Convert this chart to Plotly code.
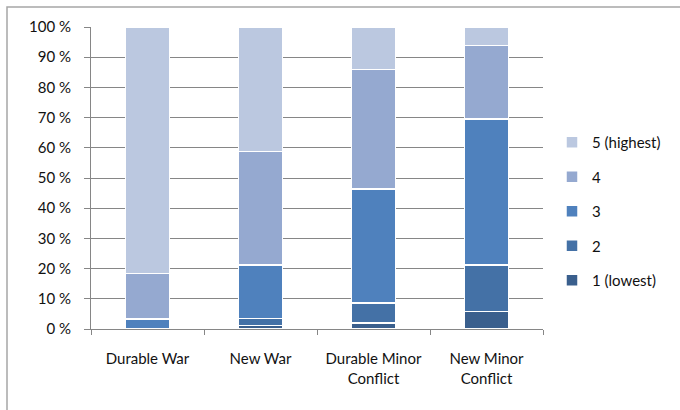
import plotly.graph_objects as go

categories = ["Durable War", "New War", "Durable Minor<br>Conflict", "New Minor<br>Conflict"]
series_names = ["1 (lowest)", "2", "3", "4", "5 (highest)"]
s1 = [0.0, 1.2, 2.0, 5.8]
s2 = [0.0, 2.2, 6.6, 15.4]
s3 = [3.3, 17.8, 37.7, 48.3]
s4 = [15.0, 37.6, 39.6, 24.3]
s5 = [81.7, 41.2, 14.1, 6.2]
series_values = [s1, s2, s3, s4, s5]
colors = ["#3A5F8D", "#4471A6", "#4F81BD", "#95A9D0", "#BBC8E0"]
tick_vals = [0, 10, 20, 30, 40, 50, 60, 70, 80, 90, 100]
tick_text = [f"{v} %" for v in tick_vals]

fig = go.Figure()
n = len(series_names)
for i, (name, vals, col) in enumerate(zip(series_names, series_values, colors)):
    fig.add_trace(go.Bar(
        x=categories, y=vals, name=name, legendgroup=name, legendrank=n - i,
        marker=dict(color=col, line=dict(color="white", width=1.5)),
    ))

W, H = 680, 410
L, R, T, B = 91, 137, 27, 81
pw, ph = W - L - R, H - T - B

def px(x):
    return (x - L) / pw

def py(y):
    return (H - B - y) / ph

fig.update_layout(
    width=W, height=H,
    margin=dict(l=L, r=R, t=T, b=B, autoexpand=False),
    barmode="stack",
    bargap=0.61,
    plot_bgcolor="white", paper_bgcolor="white",
    font=dict(family="Lato", size=15, color="#111111"),
    showlegend=True,
    legend=dict(x=px(552), y=py(126), xanchor="left", yanchor="top",
                traceorder="grouped", tracegroupgap=12,
                font=dict(size=15), itemwidth=30),
    xaxis=dict(showline=True, linecolor="#868686", linewidth=1,
               ticks="outside", ticklen=5, tickcolor="#868686",
               tickson="boundaries", showgrid=False, ticklabelstandoff=16,
               tickfont=dict(size=15, color="#111111")),
    yaxis=dict(range=[0, 100], tickvals=tick_vals, ticktext=tick_text,
               showline=True, linecolor="#868686", linewidth=1,
               ticks="outside", ticklen=6, tickcolor="#868686",
               showgrid=True, gridcolor="#868686", gridwidth=1,
               zeroline=False, ticklabelstandoff=10,
               tickfont=dict(size=15, color="#111111")),
    shapes=[dict(type="rect", xref="paper", yref="paper",
                 x0=px(7), x1=px(700), y0=py(430), y1=py(7),
                 line=dict(color="#A6A6A6", width=1.5), layer="below")],
)

fig.write_html("out.html")
